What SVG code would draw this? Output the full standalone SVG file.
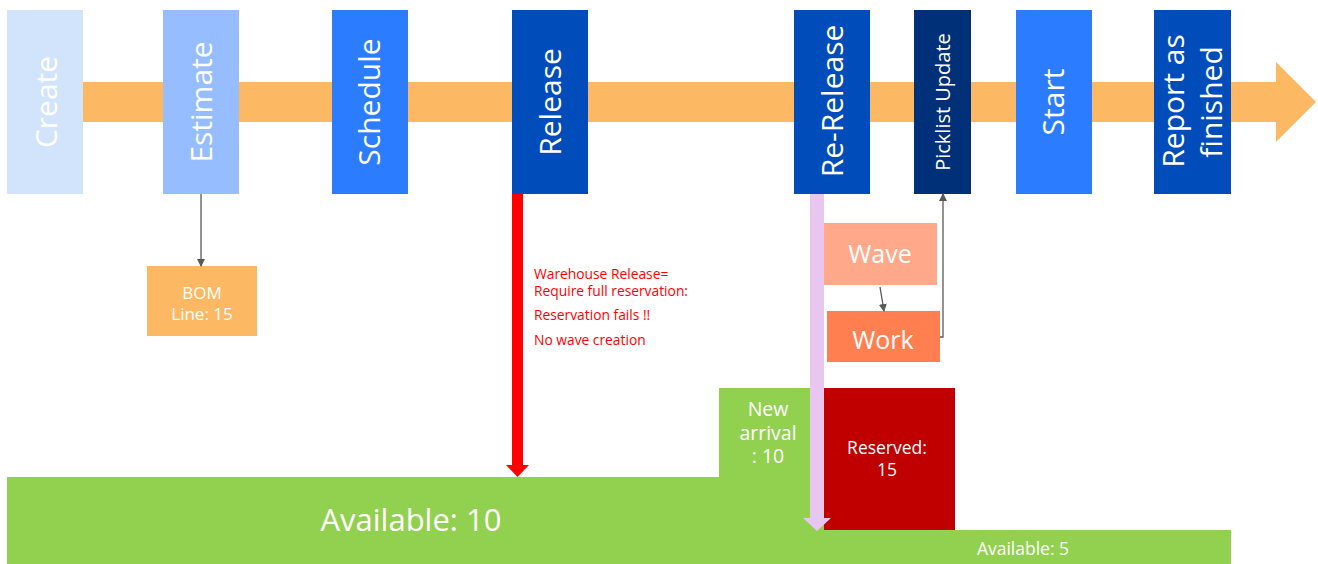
<svg xmlns="http://www.w3.org/2000/svg" width="1318" height="564" viewBox="0 0 1318 564">
<defs>
<marker id="ah" markerWidth="8" markerHeight="8" refX="7" refY="4" orient="auto" markerUnits="userSpaceOnUse"><path d="M0,0 L8,4 L0,8 z" fill="#595959"/></marker>
<style>
.t{font-family:"Open Sans","Liberation Sans",sans-serif;fill:#fff;text-anchor:middle}
.big{font-size:30px}
.red{font-family:"Open Sans","Liberation Sans",sans-serif;fill:#ff0000;font-size:13.8px}
.conn{stroke:#595959;stroke-width:1.3;fill:none}
</style>
</defs>
<rect width="1318" height="564" fill="#fff"/>
<g id="timeline">
<polygon points="45,82 1276,82 1276,62 1316,102 1276,142 1276,122 45,122" fill="#FDB863"/>
</g>
<g id="stock">
<rect x="7" y="477" width="817" height="87" fill="#92D050"/>
<rect x="719" y="388" width="105" height="90" fill="#92D050"/>
<rect x="820" y="530" width="411" height="34" fill="#92D050"/>
<text class="t" x="411" y="531" font-size="31">Available: 10</text>
<text class="t" x="1023" y="555" font-size="17.5">Available: 5</text>
<text class="t" x="768" y="416" font-size="19.5">New</text>
<text class="t" x="768" y="440" font-size="19.5">arrival</text>
<text class="t" x="768" y="463" font-size="19.5">: 10</text>
</g>
<g id="reserved">
<rect x="824" y="388" width="131" height="142" fill="#C00000"/>
<text class="t" x="887" y="454" font-size="17.5">Reserved:</text>
<text class="t" x="887" y="476" font-size="17.5">15</text>
</g>
<g id="create"><rect x="7" y="10" width="76" height="184" fill="#D2E3FC"/><text class="t big" transform="translate(57,102) rotate(-90)">Create</text></g>
<g id="estimate"><rect x="163" y="10" width="76" height="184" fill="#96BDFF"/><text class="t big" transform="translate(212,102) rotate(-90)">Estimate</text></g>
<g id="schedule"><rect x="332" y="10" width="76" height="184" fill="#2B7CFF"/><text class="t big" transform="translate(380,102) rotate(-90)">Schedule</text></g>
<g id="release"><rect x="512" y="10" width="76" height="184" fill="#004CBB"/><text class="t big" transform="translate(561,102) rotate(-90)">Release</text></g>
<g id="rerelease"><rect x="794" y="10" width="76" height="184" fill="#004CBB"/><text class="t big" transform="translate(843,101) rotate(-90)">Re-Release</text></g>
<g id="picklist"><rect x="914" y="10" width="57" height="184" fill="#003078"/><text class="t" font-size="20" transform="translate(950,102) rotate(-90)">Picklist Update</text></g>
<g id="start"><rect x="1016" y="10" width="76" height="184" fill="#2B7CFF"/><text class="t big" transform="translate(1064,102) rotate(-90)">Start</text></g>
<g id="report"><rect x="1154" y="10" width="77" height="184" fill="#004CBB"/><text class="t big" transform="translate(1184,101) rotate(-90)">Report as</text><text class="t big" transform="translate(1222,102) rotate(-90)">finished</text></g>
<g id="bom"><rect x="147" y="266" width="110" height="70" fill="#FDB863"/><text class="t" x="202" y="299" font-size="17">BOM</text><text class="t" x="202" y="320" font-size="17">Line: 15</text></g>
<g id="wave"><rect x="823" y="223" width="114" height="62" fill="#FFA98A"/><text class="t" x="880" y="263" font-size="25">Wave</text></g>
<g id="work"><rect x="827" y="311" width="113" height="51" fill="#FF7F50"/><text class="t" x="883" y="349" font-size="25">Work</text></g>
<g id="note">
<text class="red" x="534" y="279">Warehouse Release=</text>
<text class="red" x="534" y="296">Require full reservation:</text>
<text class="red" x="534" y="320">Reservation fails !!</text>
<text class="red" x="534" y="345">No wave creation</text>
</g>
<g id="connectors">
<line class="conn" x1="201" y1="194" x2="201" y2="266" marker-end="url(#ah)"/>
<line class="conn" x1="880" y1="287" x2="884" y2="311" marker-end="url(#ah)"/>
<polyline class="conn" points="940,337 943,337 943,194" marker-end="url(#ah)"/>
<rect x="512" y="194" width="11" height="272" fill="#FF0000"/>
<polygon points="506,465 529,465 517.5,477" fill="#FF0000"/>
<rect x="810" y="194" width="14" height="325" fill="#E8C6F0"/>
<polygon points="803,518 831,518 817,531" fill="#E8C6F0"/>
</g>
</svg>
